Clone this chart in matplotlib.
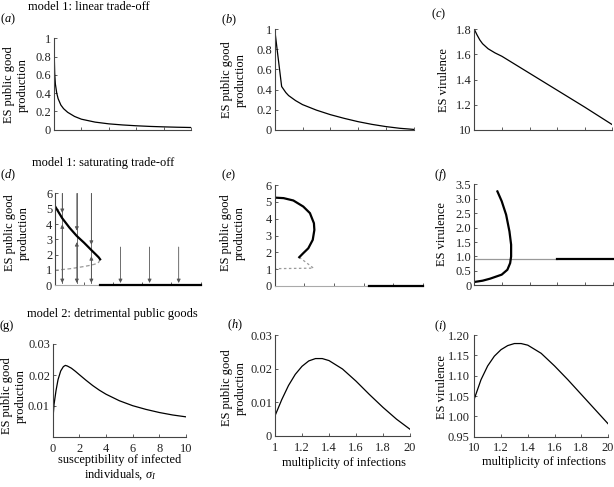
import numpy as np
import matplotlib
matplotlib.use("Agg")
from matplotlib import pyplot as plt

plt.rcParams["font.family"] = ["Liberation Serif", "DejaVu Serif"]
plt.rcParams["mathtext.fontset"] = "custom"
plt.rcParams["mathtext.rm"] = "Liberation Serif"
plt.rcParams["mathtext.it"] = "Liberation Serif:italic"
FS = 8.9

# ---- data ----
# (a) linear trade-off vs susceptibility
a_x = [0, 0.02, 0.05, 0.1, 0.2, 0.3, 0.5, 0.7, 1.0, 1.5, 2, 3, 4, 5, 6, 7, 8, 9, 10]
a_y = [1.0, 0.8, 0.62, 0.5, 0.4, 0.34, 0.27, 0.23, 0.19, 0.145, 0.115, 0.083,
       0.064, 0.052, 0.043, 0.036, 0.031, 0.027, 0.024]
# (b) linear trade-off vs multiplicity
b_x = [1.0, 1.02, 1.05, 1.08, 1.1, 1.15, 1.2, 1.3, 1.4, 1.5, 1.6, 1.7, 1.8, 1.9, 2.0]
b_y = [1.0, 0.77, 0.43, 0.37, 0.34, 0.29, 0.25, 0.195, 0.15, 0.113, 0.08, 0.053,
       0.031, 0.014, 0.003]
# (c) virulence, linear trade-off
c_x = [1.0, 1.02, 1.04, 1.06, 1.1, 1.15, 1.2, 1.4, 1.6, 1.8, 2.0]
c_y = [1.80, 1.755, 1.715, 1.685, 1.645, 1.612, 1.585, 1.45, 1.315, 1.18, 1.04]

# (d) saturating trade-off vs susceptibility
d_upper_x = [0, 0.5, 1.0, 1.5, 2.0, 2.5, 2.8, 3.0, 3.1]
d_upper_y = [5.17, 4.38, 3.76, 3.22, 2.78, 2.3, 2.02, 1.83, 1.70]
d_lower_x = [0, 0.5, 1.0, 1.5, 2.0, 2.5, 2.8, 3.0, 3.1]
d_lower_y = [0.98, 1.03, 1.08, 1.15, 1.23, 1.32, 1.40, 1.5, 1.70]
d_arrow_fold = [0.5, 1.5, 2.5]
d_arrow_zero = [4.5, 6.5, 8.5]
d_arrow_zero_top = 2.5
d_switch = 3.1

# (e) saturating trade-off vs multiplicity
e_x = [1.0, 1.06, 1.126, 1.193, 1.238, 1.265, 1.268, 1.257, 1.227, 1.193, 1.166]
e_y = [5.25, 5.22, 5.08, 4.72, 4.33, 3.73, 3.33, 2.74, 2.24, 1.95, 1.71]
e_dash_x = [1.166, 1.262, 1.0]
e_dash_y = [1.71, 1.06, 1.03]
e_switch = 1.64

# (f) virulence, saturating trade-off
f_x = [1.0, 1.06, 1.114, 1.198, 1.239, 1.259, 1.266, 1.266, 1.254, 1.23, 1.198, 1.167]
f_y = [0.115, 0.16, 0.23, 0.37, 0.54, 0.77, 1.0, 1.41, 1.87, 2.45, 2.92, 3.26]
f_level = 0.92
f_switch = 1.6

# (g) detrimental public goods vs susceptibility
g_x = [0.02, 0.1, 0.25, 0.4, 0.6, 0.8, 0.95, 1.1, 1.4, 1.7, 2, 2.5, 3, 3.5, 4, 5,
       6, 7, 8, 9, 10]
g_y = [0.0060, 0.0105, 0.0150, 0.0185, 0.0213, 0.0227, 0.0231, 0.0229, 0.0222,
       0.0212, 0.0201, 0.0183, 0.0166, 0.0151, 0.0138, 0.0117, 0.0101, 0.0089,
       0.0079, 0.0071, 0.0065]
# (h), (i) vs multiplicity
h_x = [1.0, 1.05, 1.1, 1.15, 1.2, 1.25, 1.3, 1.35, 1.4, 1.5, 1.6, 1.7, 1.8, 1.9, 2.0]
h_y = [0.006, 0.0108, 0.0150, 0.0183, 0.0207, 0.0223, 0.0230, 0.0230, 0.0224,
       0.0199, 0.0163, 0.0123, 0.0085, 0.0050, 0.0020]
i_y = [1.043, 1.090, 1.124, 1.148, 1.164, 1.174, 1.179, 1.179, 1.175, 1.155,
       1.124, 1.090, 1.054, 1.018, 0.982]

# ticks
sig_ticks = [0, 2, 4, 6, 8, 10]
mult_ticks = [1.0, 1.2, 1.4, 1.6, 1.8, 2.0]
ticks_01 = [0, 0.2, 0.4, 0.6, 0.8, 1.0]
labels_01 = ["0", "0.2", "0.4", "0.6", "0.8", "1"]
ticks_c = [1.0, 1.2, 1.4, 1.6, 1.8]
labels_c = ["10", "1.2", "1.4", "1.6", "1.8"]
ticks_06 = [0, 1, 2, 3, 4, 5, 6]
ticks_f = [0, 0.5, 1.0, 1.5, 2.0, 2.5, 3.0, 3.5]
labels_f = ["0", "0.5", "1.0", "1.5", "2.0", "2.5", "3.0", "3.5"]
ticks_g = [0, 0.01, 0.02, 0.03]
labels_g = ["", "0.01", "0.02", "0.03"]
labels_h = ["0", "0.01", "0.02", "0.03"]
ticks_i = [0.95, 1.00, 1.05, 1.10, 1.15, 1.20]
labels_i = ["0.95", "1.00", "1.05", "1.10", "1.15", "1.20"]
mult_labels_h = ["1", "1.2", "1.4", "1.6", "1.8", "20"]
mult_labels_i = ["10", "1.2", "1.4", "1.6", "1.8", "20"]
sig_labels = ["0", "2", "4", "6", "8", "10"]

W, H = 614, 487
SPINE = "#444444"
LW = 0.9
LW_THICK = 1.6
fig = plt.figure(figsize=(W / 100, H / 100), dpi=100)


def place(x0, x1, ytop, ybot):
    ax = fig.add_axes([x0 / W, 1 - ybot / H, (x1 - x0) / W, (ybot - ytop) / H])
    for s in ("top", "right"):
        ax.spines[s].set_visible(False)
    for s in ("left", "bottom"):
        ax.spines[s].set_color(SPINE)
        ax.spines[s].set_linewidth(0.8)
    ax.tick_params(direction="in", length=2.5, width=0.6, colors=SPINE,
                   labelcolor="#222222", labelsize=FS, pad=2)
    ax.tick_params(axis="x", pad=4)
    return ax


def ftext(x, y, s, **kw):
    kw.setdefault("fontsize", FS)
    fig.text(x / W, 1 - y / H, s, **kw)


# ---- row 1 ----
ax = place(54, 191, 38.3, 129.7)
ax.plot(a_x, a_y, color="black", lw=LW)
ax.set_xlim(0, 10)
ax.set_ylim(0, 1)
ax.set_xticks(sig_ticks)
ax.set_xticklabels([])
ax.set_yticks(ticks_01)
ax.set_yticklabels(labels_01)

ax = place(274.7, 413.7, 29.3, 129.7)
ax.plot(b_x, b_y, color="black", lw=LW)
ax.set_xlim(1, 2)
ax.set_ylim(0, 1)
ax.set_xticks(mult_ticks)
ax.set_xticklabels([])
ax.set_yticks(ticks_01)
ax.set_yticklabels(labels_01)

ax = place(474.3, 612.3, 29.3, 129.7)
ax.plot(c_x, c_y, color="black", lw=LW)
ax.set_xlim(1, 2)
ax.set_ylim(1.0, 1.8)
ax.set_xticks(mult_ticks)
ax.set_xticklabels([])
ax.set_yticks(ticks_c)
ax.set_yticklabels(labels_c)

# ---- row 2 ----
ax = place(55, 200.5, 193.5, 285.3)
ax.spines["bottom"].set_color("#aaaaaa")
arrow_kw = dict(arrowstyle="-|>", color="#555555", lw=0.6,
                mutation_scale=5.5, shrinkA=0, shrinkB=0)
for xa in d_arrow_fold:
    yu = np.interp(xa, d_upper_x, d_upper_y)
    yl = np.interp(xa, d_lower_x, d_lower_y)
    ax.plot([xa, xa], [0.15, 6], color="#555555", lw=0.6)
    ax.annotate("", xy=(xa, yu + 0.35), xytext=(xa, 6), arrowprops=arrow_kw)
    ax.annotate("", xy=(xa, yu - 0.4), xytext=(xa, yl), arrowprops=arrow_kw)
    ax.annotate("", xy=(xa, 0.15), xytext=(xa, yl), arrowprops=arrow_kw)
for xa in d_arrow_zero:
    ax.annotate("", xy=(xa, 0.15), xytext=(xa, d_arrow_zero_top), arrowprops=arrow_kw)
ax.plot(d_lower_x, d_lower_y, color="#999999", lw=0.9, ls=(0, (3, 2)))
ax.plot(d_upper_x, d_upper_y, color="black", lw=LW_THICK)
ax.plot([d_switch, 10], [0, 0], color="black", lw=LW_THICK, clip_on=False, zorder=5)
ax.set_xlim(0, 10)
ax.set_ylim(0, 6)
ax.set_xticks(sig_ticks)
ax.set_xticklabels([])
ax.set_yticks(ticks_06)

ax = place(274.7, 422.7, 185, 286)
ax.spines["bottom"].set_color("#aaaaaa")
ax.plot(e_dash_x, e_dash_y, color="#999999", lw=0.9, ls=(0, (2, 2)))
ax.plot(e_x, e_y, color="black", lw=LW_THICK)
ax.plot([e_switch, 2], [0, 0], color="black", lw=LW_THICK, clip_on=False, zorder=5)
ax.set_xlim(1, 2)
ax.set_ylim(0, 6)
ax.set_xticks(mult_ticks)
ax.set_xticklabels([])
ax.set_yticks(ticks_06)

ax = place(474.3, 612.7, 184.5, 285.3)
ax.plot([1, f_switch], [f_level, f_level], color="#999999", lw=0.9)
ax.plot([f_switch, 2], [f_level, f_level], color="black", lw=LW_THICK, clip_on=False)
ax.plot(f_x, f_y, color="black", lw=LW_THICK)
ax.set_xlim(1, 2)
ax.set_ylim(0, 3.5)
ax.set_xticks(mult_ticks)
ax.set_xticklabels([])
ax.set_yticks(ticks_f)
ax.set_yticklabels(labels_f)

# ---- row 3 ----
ax = place(52.7, 186, 344, 437)
ax.plot(g_x, g_y, color="black", lw=LW)
ax.set_xlim(0, 10)
ax.set_ylim(0, 0.03)
ax.set_xticks(sig_ticks)
ax.set_xticklabels(sig_labels)
ax.set_yticks(ticks_g)
ax.set_yticklabels(labels_g)

ax = place(275, 410, 335, 436)
ax.plot(h_x, h_y, color="black", lw=LW)
ax.set_xlim(1, 2)
ax.set_ylim(0, 0.03)
ax.set_xticks(mult_ticks)
ax.set_xticklabels(mult_labels_h)
ax.set_yticks(ticks_g)
ax.set_yticklabels(labels_h)

ax = place(474.3, 608, 335, 436.7)
ax.plot(h_x, i_y, color="black", lw=LW)
ax.set_xlim(1, 2)
ax.set_ylim(0.95, 1.20)
ax.set_xticks(mult_ticks)
ax.set_xticklabels(mult_labels_i)
ax.set_yticks(ticks_i)
ax.set_yticklabels(labels_i)
ax.tick_params(axis="y", pad=3.5)

# ---- text ----
ftext(88.5, 7, "model 1: linear trade-off", ha="center", va="center")
ftext(103.5, 163.3, "model 1: saturating trade-off", ha="center", va="center")
ftext(112.5, 314, "model 2: detrimental public goods", ha="center", va="center")

for x, y, s in [(0, 19, "($a$)"), (221, 20, "($b$)"), (431, 14, "($c$)"),
                (0, 175, "($d$)"), (221, 175, "($e$)"), (434, 175, "($f$)"),
                (0, 326, "(g)"), (227, 325, "($h$)"), (434, 326, "($i$)")]:
    ftext(x, y, s, ha="left", va="center")

pg = "ES public good\nproduction"
for x, y, s in [(16, 85, pg), (234, 80, pg), (444, 80, "ES virulence"),
                (17, 233, pg), (233, 233, pg), (442, 234, "ES virulence"),
                (14, 396, pg), (234, 388, pg), (442, 387, "ES virulence")]:
    ftext(x, y, s, ha="center", va="center", rotation=90, linespacing=1.15)

ftext(120, 468, "susceptibility of infected\nindividuals, $\\sigma_I$",
      ha="center", va="center", linespacing=1.2)
ftext(344, 462.7, "multiplicity of infections", ha="center", va="center")
ftext(544, 462, "multiplicity of infections", ha="center", va="center")

fig.savefig("out.png", dpi=100)
